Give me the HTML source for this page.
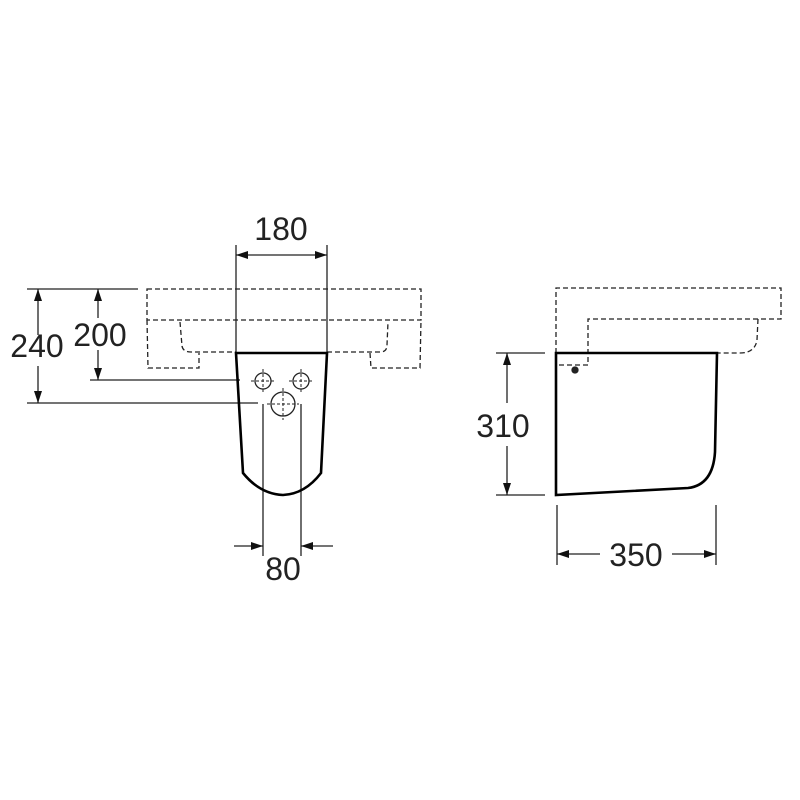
<!DOCTYPE html>
<html><head><meta charset="utf-8"><style>html,body{margin:0;padding:0;background:#fff}svg{display:block}</style></head>
<body>
<svg width="800" height="800" viewBox="0 0 800 800" xmlns="http://www.w3.org/2000/svg">
<defs>
<marker id="a" viewBox="0 0 12 8" refX="12" refY="4" markerWidth="12" markerHeight="8" markerUnits="userSpaceOnUse" orient="auto-start-reverse"><path d="M0,0 L12,4 L0,8 Z" fill="#111"/></marker>
</defs>
<g fill="none" stroke="#222" stroke-width="1.3">
<!-- left sink dashed -->
<g stroke-dasharray="5,3">
<rect x="147" y="289" width="274" height="31"/>
<path d="M147,320 L148,368 L199,368 L199,353"/>
<path d="M180,322 L182,346 Q183,352 191,352 L236,352"/>
<path d="M327,352 L380,352 Q387,352 387,345 L388,322"/>
<path d="M370,353 L371,368 L420,368 L421,320"/>
</g>
<!-- dims left -->
<line x1="236" y1="245" x2="236" y2="352"/>
<line x1="327" y1="245" x2="327" y2="352"/>
<line x1="236" y1="255" x2="327" y2="255" marker-start="url(#a)" marker-end="url(#a)"/>
<line x1="27" y1="289" x2="138" y2="289"/>
<line x1="90" y1="380" x2="240" y2="380"/>
<line x1="27" y1="403" x2="258" y2="403"/>
<line x1="38" y1="289" x2="38" y2="335"  marker-start="url(#a)"/>
<line x1="38" y1="366" x2="38" y2="403" marker-end="url(#a)"/>
<line x1="98" y1="289" x2="98" y2="318" marker-start="url(#a)"/>
<line x1="98" y1="350" x2="98" y2="380" marker-end="url(#a)"/>
<line x1="263" y1="404" x2="263" y2="556"/>
<line x1="301" y1="404" x2="301" y2="556"/>
<line x1="234" y1="546" x2="263" y2="546" marker-end="url(#a)"/>
<line x1="333" y1="546" x2="301" y2="546" marker-end="url(#a)"/>
<!-- pedestal -->
<path d="M236,353 L327,353 L321,473 Q305,494 283,495 Q260,494 243,473 Z" stroke="#000" stroke-width="2.6"/>
<circle cx="263" cy="381" r="8"/>
<circle cx="301" cy="381" r="8"/>
<circle cx="283" cy="404" r="12"/>
<g stroke-dasharray="3,2" stroke-width="1">
<line x1="251" y1="381" x2="275" y2="381"/><line x1="263" y1="369" x2="263" y2="393"/>
<line x1="289" y1="381" x2="313" y2="381"/><line x1="301" y1="369" x2="301" y2="393"/>
<line x1="267" y1="404" x2="299" y2="404"/><line x1="283" y1="388" x2="283" y2="420"/>
</g>
<!-- right view dashed -->
<g stroke-dasharray="5,3">
<path d="M556,353 L556,288 L781,288 L781,319 L588,319 L588,365 L557,365"/>
<path d="M758,319 L757,340 Q755,353 740,353 L718,353"/>
</g>
<path d="M556,353 L717,353 L715,452 Q713,485 688,488 L556,495 Z" stroke="#000" stroke-width="2.6"/>
<circle cx="575" cy="370" r="3" fill="#222"/>
<line x1="496" y1="353" x2="545" y2="353"/>
<line x1="496" y1="495" x2="545" y2="495"/>
<line x1="507" y1="353" x2="507" y2="403" marker-start="url(#a)"/>
<line x1="507" y1="446" x2="507" y2="495" marker-end="url(#a)"/>
<line x1="557" y1="505" x2="557" y2="565"/>
<line x1="716" y1="505" x2="716" y2="565"/>
<line x1="557" y1="554" x2="600" y2="554" marker-start="url(#a)"/>
<line x1="672" y1="554" x2="716" y2="554" marker-end="url(#a)"/>
</g>
<g font-family="Liberation Sans, sans-serif" font-size="32" fill="#222" text-anchor="middle">
<text x="281" y="240">180</text>
<text x="37" y="357">240</text>
<text x="100" y="346">200</text>
<text x="283" y="580">80</text>
<text x="503" y="437">310</text>
<text x="636" y="566">350</text>
</g>
</svg>
</body></html>
